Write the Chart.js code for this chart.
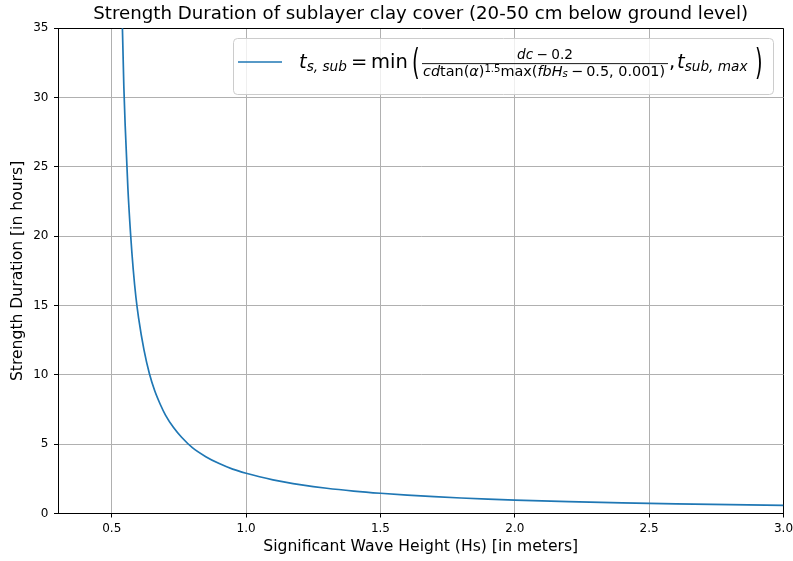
<!DOCTYPE html>
<html>
<head>
<meta charset="utf-8">
<script src="https://cdn.jsdelivr.net/npm/chart.js@4/dist/chart.umd.min.js"></script>
<style>
  html, body { margin: 0; padding: 0; background: #fff; }
  #wrap { width: 793px; height: 561px; position: relative; }
</style>
</head>
<body>
<div id="wrap"><canvas id="durationChart"></canvas></div>
<script>
  // Significant wave height Hs [m] and strength duration [h]
  const waveHeight = [0.53, 0.535, 0.54, 0.545, 0.55, 0.56, 0.57, 0.58, 0.59, 0.60,
    0.62, 0.64, 0.66, 0.68, 0.70, 0.73, 0.76, 0.80, 0.85, 0.90, 0.95, 1.00,
    1.05, 1.10, 1.15, 1.20, 1.30, 1.40, 1.50, 1.60, 1.70, 1.80, 1.90, 2.00,
    2.20, 2.40, 2.60, 2.80, 3.00];
  const strengthHours = [46.7, 40.0, 34.8, 30.8, 28.0, 23.5, 20.2, 17.6, 15.6, 14.1,
    11.8, 10.1, 8.85, 7.9, 7.1, 6.2, 5.5, 4.75, 4.1, 3.6, 3.2, 2.9,
    2.65, 2.43, 2.24, 2.08, 1.82, 1.62, 1.46, 1.33, 1.22, 1.12, 1.04, 0.97,
    0.86, 0.77, 0.70, 0.64, 0.59];

  const xTicks = [0.5, 1.0, 1.5, 2.0, 2.5, 3.0];
  const yTicks = [0, 5, 10, 15, 20, 25, 30, 35];

  const FONT = '"DejaVu Sans"';
  const lineColor = '#1f77b4';

  function mfont(size, italic) {
    return (italic ? 'italic ' : '') + size + 'px ' + FONT;
  }

  // draws a row of text pieces, returns the x where it ended
  function runs(ctx, parts, x, y, size, draw) {
    for (const p of parts) {
      const s = size * (p.scale || 1);
      ctx.font = mfont(s, p.it);
      x += (p.pad || 0) * size;
      if (draw) ctx.fillText(p.t, x, y + (p.dy || 0) * size);
      x += ctx.measureText(p.t).width + (p.pad || 0) * size;
    }
    return x;
  }

  function bigParen(ctx, ch, x, cy, size, sy) {
    ctx.save();
    ctx.font = mfont(size, false);
    ctx.textBaseline = 'middle';
    ctx.translate(x, cy);
    ctx.scale(1, sy);
    ctx.fillText(ch, 0, 0);
    ctx.restore();
  }

  // keep the title centred over the axes rather than the whole canvas
  const centerTitle = {
    id: 'centerTitle',
    afterLayout(chart) {
      const tb = chart.titleBlock;
      if (tb) {
        tb.left = chart.chartArea.left;
        tb.right = chart.chartArea.right;
        tb.width = tb.right - tb.left;
      }
    }
  };

  // formula legend in the upper right of the axes
  const formulaLegend = {
    id: 'formulaLegend',
    afterDatasetsDraw(chart) {
      const ctx = chart.ctx;
      const area = chart.chartArea;
      const L = Math.round(area.right - 551);
      const T = Math.round(area.top + 10);
      const base = T + 30;
      const big = 19.5;
      const small = 13.65;

      ctx.save();
      ctx.beginPath();
      ctx.roundRect(L + 0.5, T + 0.5, 540, 56, 4);
      ctx.fillStyle = 'rgba(255,255,255,0.8)';
      ctx.fill();
      ctx.strokeStyle = '#cccccc';
      ctx.lineWidth = 1;
      ctx.stroke();

      ctx.beginPath();
      ctx.moveTo(L + 5, T + 24);
      ctx.lineTo(L + 49, T + 24);
      ctx.strokeStyle = lineColor;
      ctx.lineWidth = 1.7;
      ctx.stroke();

      ctx.fillStyle = '#000';
      ctx.textBaseline = 'alphabetic';
      ctx.textAlign = 'left';

      // t_{s,sub} = min(
      runs(ctx, [
        { t: 't', it: true },
        { t: 's, sub', it: true, scale: 0.7, dy: 0.15 }
      ], L + 66, base, big, true);
      runs(ctx, [{ t: '=' }], L + 118, base, big, true);
      runs(ctx, [{ t: 'min' }], L + 138, base, big, true);
      bigParen(ctx, '(', L + 179, T + 26.5, big, 1.85);

      // fraction
      const barL = L + 189, barR = L + 435;
      ctx.fillRect(barL, T + 25.2, barR - barL, 0.9);

      const num = [
        { t: 'dc', it: true },
        { t: '\u2212', pad: 0.24 },
        { t: '0.2' }
      ];
      const nw = runs(ctx, num, 0, 0, small, false);
      runs(ctx, num, (barL + barR) / 2 - nw / 2, T + 21.4, small, true);

      const den = [
        { t: 'cd', it: true },
        { t: 'tan(' },
        { t: '\u03b1', it: true },
        { t: ')' },
        { t: '1.5', scale: 0.7, dy: -0.3 },
        { t: 'max(' },
        { t: 'fbH', it: true },
        { t: 's', it: true, scale: 0.7, dy: 0.08 },
        { t: '\u2212', pad: 0.22 },
        { t: '0.5, 0.001)' }
      ];
      const dw = runs(ctx, den, 0, 0, small, false);
      const dsize = small * 242 / dw;
      runs(ctx, den, barL + 1, T + 38, dsize, true);

      // , t_{sub,max})
      runs(ctx, [
        { t: ',' },
        { t: ' ', scale: 0.3 },
        { t: 't', it: true },
        { t: 'sub, max', it: true, scale: 0.7, dy: 0.15 }
      ], L + 436, base, big, true);
      bigParen(ctx, ')', L + 522, T + 26.5, big, 1.85);

      ctx.restore();
    }
  };

  // spines on top and right
  const spineColor = (c, v) => (c.tick && c.tick.value === v ? '#000000' : '#b0b0b0');

  new Chart(document.getElementById('durationChart'), {
    type: 'line',
    data: {
      labels: waveHeight,
      datasets: [{
        label: 'ts,sub',
        data: waveHeight.map((h, i) => ({ x: h, y: strengthHours[i] })),
        borderColor: lineColor,
        borderWidth: 1.7,
        pointRadius: 0,
        cubicInterpolationMode: 'monotone',
        fill: false,
        clip: 0
      }]
    },
    options: {
      responsive: true,
      maintainAspectRatio: false,
      animation: false,
      layout: { padding: { left: 0, right: 9.5, top: 0, bottom: 0 } },
      plugins: {
        legend: { display: false },
        tooltip: { enabled: false },
        title: {
          display: true,
          text: 'Strength Duration of sublayer clay cover (20-50 cm below ground level)',
          color: '#000',
          font: { family: FONT, size: 18.2, weight: 'normal' },
          padding: { top: 3, bottom: 3.5 }
        }
      },
      scales: {
        x: {
          type: 'linear',
          min: 0.3,
          max: 3.0,
          afterBuildTicks: s => { s.ticks = xTicks.map(v => ({ value: v })); },
          afterFit: s => { s.height = 47.5; s.paddingLeft = 0; s.paddingRight = 0; },
          border: { color: '#000', width: 1 },
          grid: {
            color: c => spineColor(c, 3.0),
            lineWidth: 1,
            tickColor: '#000',
            tickLength: 4
          },
          ticks: {
            color: '#000',
            padding: 4,
            font: { family: FONT, size: 12 },
            callback: v => v.toFixed(1)
          },
          title: {
            display: true,
            text: 'Significant Wave Height (Hs) [in meters]',
            color: '#000',
            font: { family: FONT, size: 15.6 },
            padding: { top: 2, bottom: 4.6 }
          }
        },
        y: {
          min: 0,
          max: 35,
          afterBuildTicks: s => { s.ticks = yTicks.map(v => ({ value: v })); },
          afterFit: s => { s.width = 58; s.paddingTop = 0; s.paddingBottom = 0; },
          border: { color: '#000', width: 1 },
          grid: {
            color: c => spineColor(c, 35),
            lineWidth: 1,
            tickColor: '#000',
            tickLength: 4
          },
          ticks: {
            color: '#000',
            padding: 5.5,
            font: { family: FONT, size: 12 }
          },
          title: {
            display: true,
            text: 'Strength Duration [in hours]',
            color: '#000',
            font: { family: FONT, size: 15.6 },
            padding: { top: 9, bottom: 0 }
          }
        }
      }
    },
    plugins: [centerTitle, formulaLegend]
  });
</script>
</body>
</html>
